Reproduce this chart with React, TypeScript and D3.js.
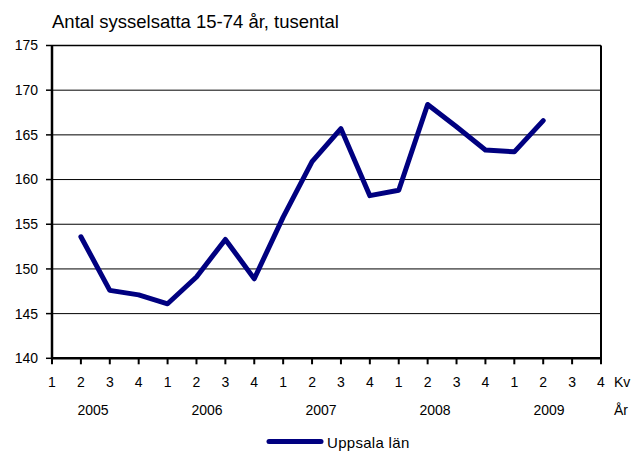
import * as d3 from "d3";

const quarters = ["1", "2", "3", "4", "1", "2", "3", "4", "1", "2", "3", "4", "1", "2", "3", "4", "1", "2", "3", "4"];
const years = ["2005", "2006", "2007", "2008", "2009"];
// value per quarter index, null = no data
const uppsala: (number | null)[] = [
	null, 153.6, 147.6, 147.1, 146.1, 149.1, 153.3, 148.9, 155.8, 162.0,
	165.7, 158.2, 158.8, 168.4, 165.9, 163.3, 163.1, 166.6, null, null,
];
const yTicks = [140, 145, 150, 155, 160, 165, 170, 175];

const W = 633;
const H = 453;
const left = 52;
const right = 601;
const top = 45.5;
const bottom = 358.3;
const font = "'Liberation Sans', Arial, sans-serif";

export default function App() {
	const x = d3.scaleLinear().domain([0, quarters.length - 1]).range([left, right]);
	const y = d3.scaleLinear().domain([140, 175]).range([bottom, top]);
	const yearX = d3.scalePoint<string>().domain(years).range([93, 549]);

	const pts = uppsala
		.map((v, i) => ({ i, v }))
		.filter((d) => d.v != null) as { i: number; v: number }[];
	const line = d3
		.line<{ i: number; v: number }>()
		.x((d) => x(d.i))
		.y((d) => y(d.v));

	return (
		<svg
			width={W}
			height={H}
			style={{ position: "absolute", left: 0, top: 0, background: "#fff" }}
			fontFamily={font}
		>
			<text x={52} y={28} fontSize={18.5} fill="#000">
				Antal sysselsatta 15-74 år, tusental
			</text>

			{yTicks.map((t) => (
				<g key={t}>
					{t > 140 && t < 175 && (
						<line x1={left} x2={right} y1={y(t)} y2={y(t)} stroke="#000" strokeWidth={1} />
					)}
					<line x1={left - 6} x2={left} y1={y(t)} y2={y(t)} stroke="#000" strokeWidth={1.5} />
					<text x={38} y={y(t)} dy="0.35em" textAnchor="end" fontSize={14}>
						{t}
					</text>
				</g>
			))}

			{/* plot frame */}
			<line x1={left} x2={right} y1={top} y2={top} stroke="#000" strokeWidth={1.5} />
			<line x1={right} x2={right} y1={top} y2={bottom} stroke="#000" strokeWidth={2} />
			<line x1={left} x2={left} y1={top} y2={bottom + 1} stroke="#000" strokeWidth={2.5} />
			<line x1={left - 1} x2={right + 1} y1={bottom} y2={bottom} stroke="#000" strokeWidth={2.5} />

			{quarters.map((q, i) => (
				<g key={i}>
					<line x1={x(i)} x2={x(i)} y1={bottom} y2={bottom + 6} stroke="#000" strokeWidth={2} />
					<text x={x(i)} y={386.5} textAnchor="middle" fontSize={14}>
						{q}
					</text>
				</g>
			))}
			<text x={614} y={386.5} fontSize={14}>Kv</text>

			{years.map((yr) => (
				<text key={yr} x={yearX(yr)} y={415} textAnchor="middle" fontSize={14}>
					{yr}
				</text>
			))}
			<text x={614} y={415} fontSize={14}>År</text>

			<path
				d={line(pts) ?? ""}
				fill="none"
				stroke="#000080"
				strokeWidth={5}
				strokeLinejoin="round"
				strokeLinecap="round"
			/>

			<line x1={269} x2={321} y1={441.5} y2={441.5} stroke="#000080" strokeWidth={5} strokeLinecap="round" />
			<text x={327} y={448} fontSize={15} letterSpacing={0.3}>Uppsala län</text>
		</svg>
	);
}
